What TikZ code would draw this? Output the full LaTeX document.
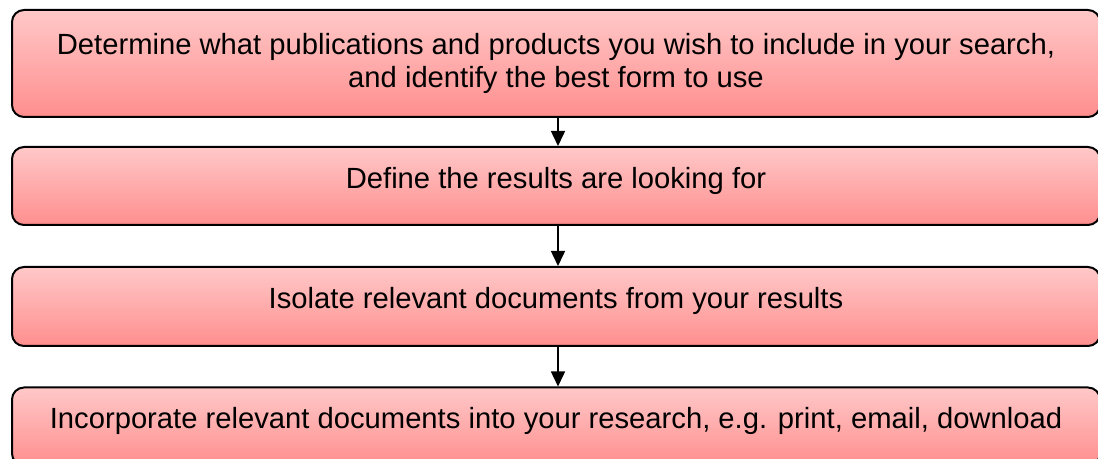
\documentclass[tikz,border=0pt]{standalone}
\usepackage{fontspec}
\setmainfont{Liberation Sans}
\usetikzlibrary{arrows.meta}
\definecolor{pinktop}{RGB}{255,200,200}
\definecolor{pinkbot}{RGB}{255,142,142}

\tikzset{stepbox/.style={draw=black, line width=1pt, rounded corners=6pt,
  top color=pinktop, bottom color=pinkbot, minimum width=544pt,
  inner sep=0pt, align=center, text height=10.5pt, text depth=8pt,
  font=\fontsize{14.6}{16.5}\selectfont}}
\tikzset{steparrow/.style={line width=0.75pt, -{Triangle[length=7.5pt,width=7pt]}}}

\begin{document}
\begin{tikzpicture}[x=0.5pt,y=-0.5pt]
\useasboundingbox (0,0) rectangle (1098,459);
\clip (0,0) rectangle (1098,459);

% the four steps
\node [stepbox, minimum height=53.5pt, text height=, text depth=] (s1) at (556,63.5)
  {Determine what publications and products you wish to include in your search,\\ and identify the best form to use};
\node [stepbox, minimum height=39pt] (s2) at (556,186) {Define the results are looking for};
\node [stepbox, minimum height=39.5pt] (s3) at (556,306.5) {Isolate relevant documents from your results};
\node [stepbox, minimum height=39pt] (s4) at (556,426.5) {Incorporate relevant documents into your research, e.g. print, email, download};

\foreach \a/\b in {s1/s2,s2/s3,s3/s4}
  \draw [steparrow] ([xshift=1pt]\a.south) -- ([xshift=1pt]\b.north);
\end{tikzpicture}
\end{document}
